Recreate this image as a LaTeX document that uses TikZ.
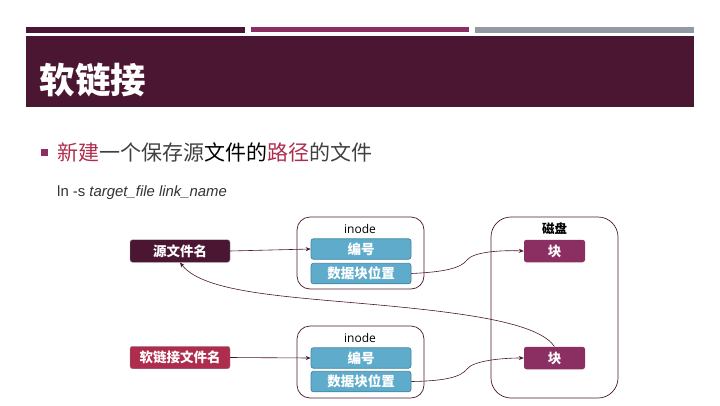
\documentclass[tikz,border=0pt]{standalone}
\usepackage{fontspec}
\usepackage{xcolor}
\setmainfont{Liberation Sans}
\newfontfamily\cjk{Noto Sans CJK SC}
\newfontfamily\inodefont{Open Sans}
\usetikzlibrary{arrows.meta}

\definecolor{darkplum}{HTML}{4A1632}
\definecolor{plum}{HTML}{8B2E62}
\definecolor{rosered}{HTML}{AE2D4E}
\definecolor{skyblue}{HTML}{5FABCB}
\definecolor{skyedge}{HTML}{43849F}
\definecolor{bargrey}{HTML}{9299A0}
\definecolor{bodygrey}{HTML}{404040}

\tikzset{
  band/.style={rectangle, inner sep=0pt, anchor=north west},
  namebox/.style={rectangle, draw=black!40, line width=0.4pt, minimum width=100pt, minimum height=22.5pt, rounded corners=2.5pt, inner sep=0pt, text=white, font=\cjk\bfseries\fontsize{13.5}{13.5}\selectfont},
  fieldbox/.style={rectangle, draw=skyedge, line width=0.7pt, fill=skyblue, minimum width=100pt, minimum height=20.5pt, rounded corners=2.5pt, inner sep=0pt, text=white, font=\cjk\bfseries\fontsize{13.5}{13.5}\selectfont},
  blockbox/.style={rectangle, fill=plum, minimum width=61pt, minimum height=22.5pt, rounded corners=2.5pt, inner sep=0pt, text=white, font=\cjk\bfseries\fontsize{13.5}{13.5}\selectfont},
  holder/.style={rectangle, draw=darkplum, line width=0.7pt, minimum width=127pt, rounded corners=13pt, inner sep=0pt},
  link/.style={draw=darkplum, line width=0.6pt, -{Stealth[length=5pt,width=4pt]}}
}

\begin{document}
\begin{tikzpicture}[x=1pt, y=-1pt]
\useasboundingbox (0,0) rectangle (720,405);

% title
\node(bar1) [band, fill=darkplum, minimum width=219pt, minimum height=6pt] at (26,27) {};
\node(bar2) [band, fill=plum, minimum width=218pt, minimum height=5pt] at (251,27) {};
\node(bar3) [band, fill=bargrey, minimum width=219pt, minimum height=6pt] at (475,27) {};
\node(titleband) [band, fill=darkplum, minimum width=668pt, minimum height=71pt] at (26,36) {};
\node(title) [anchor=west, inner sep=0pt, text=white, font=\cjk\bfseries\fontsize{35.5}{35.5}\selectfont] at (39.5,80) {软链接};

% bullet line
\node(bullet) [rectangle, fill=plum, minimum size=7pt, inner sep=0pt] at (44.5,152.5) {};
\node(bullettext) [anchor=west, inner sep=0pt, text=bodygrey, font=\cjk\fontsize{21}{21}\selectfont] at (57.5,152.5) {\textcolor{rosered}{新建}一个保存源\textcolor{black}{文件的}\textcolor{rosered}{路径}的文件};
\node(command) [anchor=west, inner sep=0pt, text=black!80, font=\fontsize{14.9}{14.9}\selectfont] at (57,192.5) {ln -s \textit{target\_file link\_name}};

% holders
\node(inodeA) [holder, minimum height=72pt] at (360.5,253) {};
\node(inodeB) [holder, minimum height=72pt] at (360.5,362) {};
\node(disk) [holder, minimum height=181pt, rounded corners=20pt] at (554.5,307.5) {};
\node(inodeAtext) [font=\inodefont\fontsize{12}{12}\selectfont] at (360,228.5) {inode};
\node(inodeBtext) [font=\inodefont\fontsize{12}{12}\selectfont] at (360,337.5) {inode};
\node(disktext) [font=\cjk\bfseries\fontsize{12.5}{12.5}\selectfont] at (554.5,229) {磁盘};

% boxes
\node(source) [namebox, fill=darkplum] at (180,251) {源文件名};
\node(symlink) [namebox, fill=rosered] at (180,357.5) {软链接文件名};
\node(idA) [fieldbox] at (361,249) {编号};
\node(addrA) [fieldbox] at (361,273.5) {数据块位置};
\node(idB) [fieldbox] at (361,358) {编号};
\node(addrB) [fieldbox] at (361,381.5) {数据块位置};
\node(blockA) [blockbox] at (554.5,251) {块};
\node(blockB) [blockbox] at (554.5,358) {块};

% connectors
\draw[link] (source.east) -- (idA.west);
\draw[link] (symlink.east) -- (idB.west);
\draw[link] (addrA.east) .. controls (445,272) and (461,268) .. (467,260) .. controls (473,252) and (500,250) .. (blockA.west);
\draw[link] (addrB.east) .. controls (445,381) and (461,377) .. (467,369) .. controls (473,361) and (500,358) .. (blockB.west);
\draw[link] (blockB.north) .. controls (540,325) and (480,315) .. (400,307) .. controls (300,297) and (205,295) .. (source.south);

\end{tikzpicture}
\end{document}
